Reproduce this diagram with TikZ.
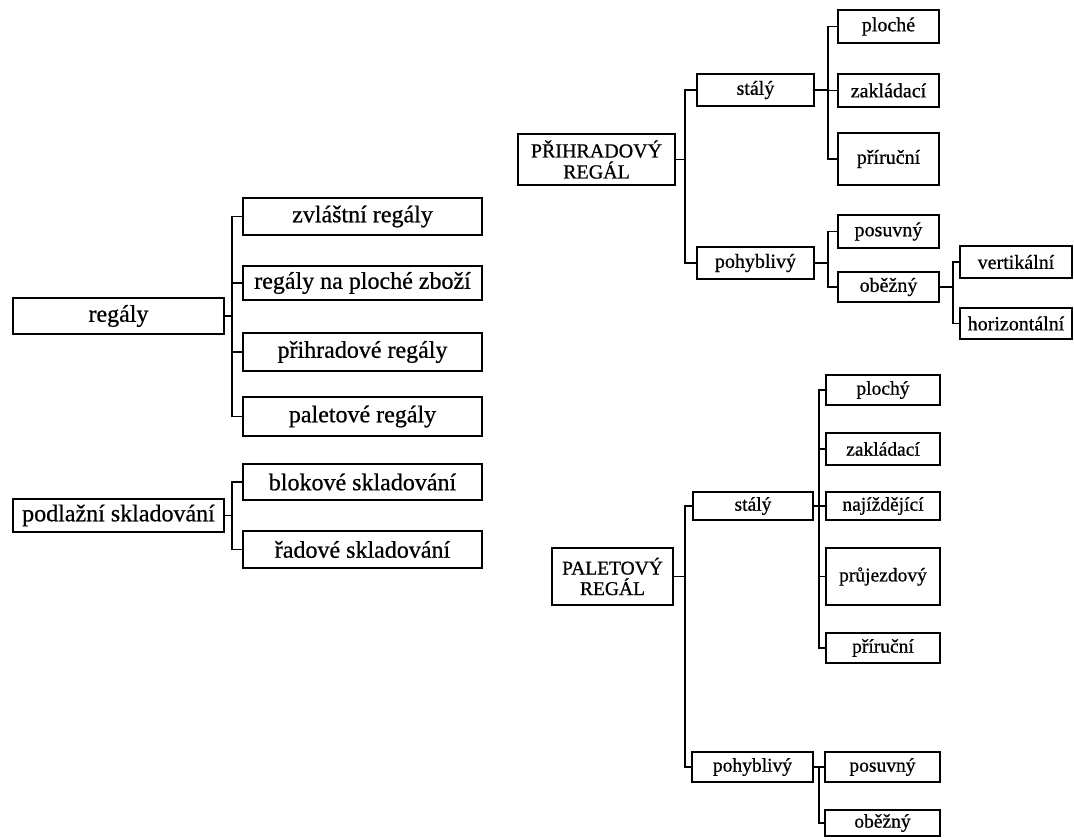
\documentclass[tikz,border=0pt]{standalone}
\usepackage{fontspec}
\setmainfont{Liberation Serif}[FakeBold=0.7]
\begin{document}
\begin{tikzpicture}[x=1pt,y=-1pt,
  bx/.style={draw, line width=1.8pt, inner sep=0pt, align=center, anchor=center},
  big/.style={font=\fontsize{24}{25}\selectfont},
  small/.style={font=\fontsize{20}{21}\selectfont},
  smaller/.style={font=\fontsize{19.5}{20.5}\selectfont},
  ln/.style={line width=1.8pt}]
\useasboundingbox (0,0) rectangle (1074,839);
% ---------- left tree ----------
\node[bx,big,minimum width=211pt,minimum height=36pt] (regaly) at (118.5,316) {regály};
\node[bx,big,minimum width=239pt,minimum height=37pt] (zvl) at (362.5,216.5) {zvláštní regály};
\node[bx,big,minimum width=239pt,minimum height=34pt] (napl) at (362.5,283) {regály na ploché zboží};
\node[bx,big,minimum width=239pt,minimum height=38pt] (prih) at (362.5,352) {přihradové regály};
\node[bx,big,minimum width=239pt,minimum height=39pt] (palr) at (362.5,416.5) {paletové regály};
\path (regaly.east) ++(7,0) coordinate (b1);
\draw[ln] (regaly.east) -- (b1);
\foreach \c in {zvl,napl,prih,palr} \draw[ln] (b1) |- (\c.west);

\node[bx,big,minimum width=211pt,minimum height=33pt] (podl) at (118.5,515.5) {podlažní skladování};
\node[bx,big,minimum width=239pt,minimum height=36pt] (blok) at (362.5,482) {blokové skladování};
\node[bx,big,minimum width=239pt,minimum height=37pt] (rad) at (362.5,549.5) {řadové skladování};
\path (podl.east) ++(7,0) coordinate (b2);
\draw[ln] (podl.east) -- (b2);
\foreach \c in {blok,rad} \draw[ln] (b2) |- (\c.west);

% ---------- top right tree ----------
\node[bx,small,minimum width=157pt,minimum height=51pt] (PR) at (596.5,159.5) {PŘIHRADOVÝ\\REGÁL};
\node[bx,small,minimum width=117pt,minimum height=32pt] (st1) at (755.5,90) {stálý};
\node[bx,small,minimum width=117pt,minimum height=32pt] (po1) at (755.5,263) {pohyblivý};
\node[bx,small,minimum width=101pt,minimum height=33pt] (ploche) at (888.5,26.5) {ploché};
\node[bx,small,minimum width=101pt,minimum height=33pt] (zakl1) at (888.5,90.5) {zakládací};
\node[bx,small,minimum width=101pt,minimum height=52pt] (prir1) at (888.5,159) {příruční};
\node[bx,small,minimum width=101pt,minimum height=33pt] (posuv1) at (888.5,231.5) {posuvný};
\node[bx,small,minimum width=101pt,minimum height=30pt] (obez1) at (888.5,287) {oběžný};
\node[bx,small,minimum width=112pt,minimum height=32pt] (vert) at (1016,262) {vertikální};
\node[bx,small,minimum width=112pt,minimum height=31pt] (horiz) at (1016,323.5) {horizontální};
\path (PR.east) ++(9,0) coordinate (b3);
\draw[ln] (PR.east) -- (b3);
\foreach \c in {st1,po1} \draw[ln] (b3) |- (\c.west);
\path (st1.east) ++(13,0) coordinate (b4);
\draw[ln] (st1.east) -- (b4);
\foreach \c in {ploche,zakl1,prir1} \draw[ln] (b4) |- (\c.west);
\path (po1.east) ++(13,0) coordinate (b5);
\draw[ln] (po1.east) -- (b5);
\foreach \c in {posuv1,obez1} \draw[ln] (b5) |- (\c.west);
\path (obez1.east) ++(13,0) coordinate (b6);
\draw[ln] (obez1.east) -- (b6);
\foreach \c in {vert,horiz} \draw[ln] (b6) |- (\c.west);

% ---------- bottom right tree ----------
\node[bx,smaller,minimum width=121pt,minimum height=57pt] (PAL) at (612.5,576.5) {PALETOVÝ\\REGÁL};
\node[bx,smaller,minimum width=120pt,minimum height=28pt] (st2) at (753,506) {stálý};
\node[bx,smaller,minimum width=121pt,minimum height=30pt] (po2) at (752.5,767) {pohyblivý};
\node[bx,smaller,minimum width=114pt,minimum height=30pt] (plochy) at (883,390) {plochý};
\node[bx,smaller,minimum width=114pt,minimum height=32pt] (zakl2) at (883,449) {zakládací};
\node[bx,smaller,minimum width=114pt,minimum height=28pt] (najizd) at (883,506) {najíždějící};
\node[bx,smaller,minimum width=114pt,minimum height=57pt] (pruj) at (883,576.5) {průjezdový};
\node[bx,smaller,minimum width=114pt,minimum height=30pt] (prir2) at (883,648) {příruční};
\node[bx,smaller,minimum width=115pt,minimum height=30pt] (posuv2) at (882.5,767) {posuvný};
\node[bx,smaller,minimum width=115pt,minimum height=26pt] (obez2) at (882.5,823) {oběžný};
\path (PAL.east) ++(11,0) coordinate (b7);
\draw[ln] (PAL.east) -- (b7);
\foreach \c in {st2,po2} \draw[ln] (b7) |- (\c.west);
\path (st2.east) ++(5,0) coordinate (b8);
\draw[ln] (st2.east) -- (b8);
\foreach \c in {plochy,zakl2,najizd,pruj,prir2} \draw[ln] (b8) |- (\c.west);
\path (po2.east) ++(5,0) coordinate (b9);
\draw[ln] (po2.east) -- (b9);
\foreach \c in {posuv2,obez2} \draw[ln] (b9) |- (\c.west);
\end{tikzpicture}
\end{document}
